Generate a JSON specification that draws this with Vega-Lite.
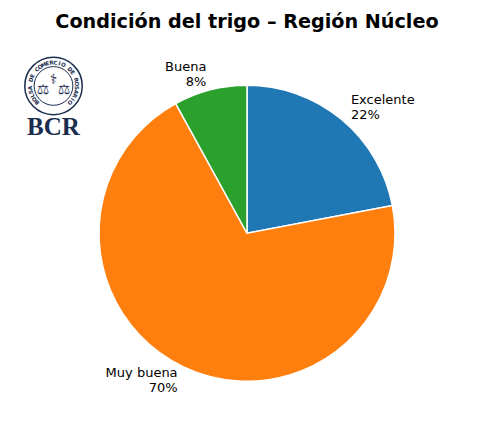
{"$schema":"https://vega.github.io/schema/vega-lite/v6.json","width":485,"height":423,"autosize":{"type":"fit","contains":"padding"},"padding":{"left":9,"top":12.5,"right":0,"bottom":0},"background":"white","view":{"stroke":null},
"title":{"text":"Condición del trigo – Región Núcleo","font":"DejaVu Sans","fontWeight":"bold","fontSize":19.2,"color":"#000000","anchor":"middle","offset":-24,"dy":-35.5},
"datasets":{"pie":[{"c":"Excelente","v":22,"o":1,"t":["Excelente","22%"],"side":"left"},{"c":"Muy buena","v":70,"o":2,"t":["Muy buena","70%"],"side":"right"},{"c":"Buena","v":8,"o":3,"t":["Buena","8%"],"side":"right"}],
"rings":[{"px":44.5,"py":42.5,"kind":"outer"},{"px":44.5,"py":42.5,"kind":"inner"}],
"word":[{"px":44.5,"py":84,"t":"BCR"}],
"emblem":[{"px":34,"py":47,"t":"⚖"},{"px":55,"py":47,"t":"⚖"},{"px":44.5,"py":37,"t":"⚕"}],
"ringtext":[{"l":"B","px":27.9,"py":59.1,"a":-135},{"l":"O","px":25.3,"py":56,"a":-125},{"l":"L","px":23.2,"py":52.4,"a":-115},{"l":"S","px":21.8,"py":48.6,"a":-105},{"l":"A","px":21.1,"py":44.5,"a":-95},{"l":"D","px":21.8,"py":36.4,"a":-75},{"l":"E","px":23.2,"py":32.6,"a":-65},{"l":"C","px":27.9,"py":25.9,"a":-45},{"l":"O","px":31,"py":23.3,"a":-35},{"l":"M","px":34.6,"py":21.2,"a":-25},{"l":"E","px":38.4,"py":19.8,"a":-15},{"l":"R","px":42.5,"py":19.1,"a":-5},{"l":"C","px":46.5,"py":19.1,"a":5},{"l":"I","px":50.6,"py":19.8,"a":15},{"l":"O","px":54.4,"py":21.2,"a":25},{"l":"D","px":61.1,"py":25.9,"a":45},{"l":"E","px":63.7,"py":29,"a":55},{"l":"R","px":67.2,"py":36.4,"a":75},{"l":"O","px":67.9,"py":40.5,"a":85},{"l":"S","px":67.9,"py":44.5,"a":95},{"l":"A","px":67.2,"py":48.6,"a":105},{"l":"R","px":65.8,"py":52.4,"a":115},{"l":"I","px":63.7,"py":56,"a":125},{"l":"O","px":61.1,"py":59.1,"a":135}]},
"layer":[
{"data":{"name":"pie"},"mark":{"type":"arc","outerRadius":148,"stroke":"white","strokeWidth":1.5},
"encoding":{"theta":{"field":"v","type":"quantitative","stack":true},"order":{"field":"o"},"color":{"field":"c","type":"nominal","legend":null,"scale":{"domain":["Excelente","Muy buena","Buena"],"range":["#1f77b4","#ff7f0e","#2ca02c"]}}}},
{"data":{"name":"pie"},"mark":{"type":"text","radius":163,"dy":-8,"align":{"expr":"datum.side"},"baseline":"middle","font":"DejaVu Sans","fontSize":13,"color":"#000000"},
"encoding":{"theta":{"field":"v","type":"quantitative","stack":true},"order":{"field":"o"},"text":{"field":"t"}}},
{"data":{"name":"rings"},"transform":[{"filter":"datum.kind==='outer'"}],"mark":{"type":"point","filled":false,"size":3300,"stroke":"#1a2d4f","strokeWidth":1.5,"opacity":1},
"encoding":{"x":{"field":"px","type":"quantitative","scale":{"domain":[0,476]},"axis":null},"y":{"field":"py","type":"quantitative","scale":{"domain":[380,0]},"axis":null}}},
{"data":{"name":"rings"},"transform":[{"filter":"datum.kind==='inner'"}],"mark":{"type":"point","filled":false,"size":1500,"stroke":"#1a2d4f","strokeWidth":1,"opacity":1},
"encoding":{"x":{"field":"px","type":"quantitative","scale":{"domain":[0,476]},"axis":null},"y":{"field":"py","type":"quantitative","scale":{"domain":[380,0]},"axis":null}}},
{"data":{"name":"ringtext"},"mark":{"type":"text","font":"DejaVu Sans","fontSize":5.5,"fontWeight":"bold","color":"#1a2d4f","align":"center","baseline":"middle"},
"encoding":{"x":{"field":"px","type":"quantitative","scale":{"domain":[0,476]},"axis":null},"y":{"field":"py","type":"quantitative","scale":{"domain":[380,0]},"axis":null},"angle":{"field":"a","type":"quantitative","scale":null},"text":{"field":"l"}}},
{"data":{"name":"emblem"},"mark":{"type":"text","font":"DejaVu Sans","fontSize":14,"color":"#1a2d4f","align":"center","baseline":"middle"},
"encoding":{"x":{"field":"px","type":"quantitative","scale":{"domain":[0,476]},"axis":null},"y":{"field":"py","type":"quantitative","scale":{"domain":[380,0]},"axis":null},"text":{"field":"t"}}},
{"data":{"name":"word"},"mark":{"type":"text","font":"Liberation Serif","fontSize":25,"fontWeight":"bold","color":"#1a2d4f","align":"center","baseline":"middle"},
"encoding":{"x":{"field":"px","type":"quantitative","scale":{"domain":[0,476]},"axis":null},"y":{"field":"py","type":"quantitative","scale":{"domain":[380,0]},"axis":null},"text":{"field":"t"}}}
]}
